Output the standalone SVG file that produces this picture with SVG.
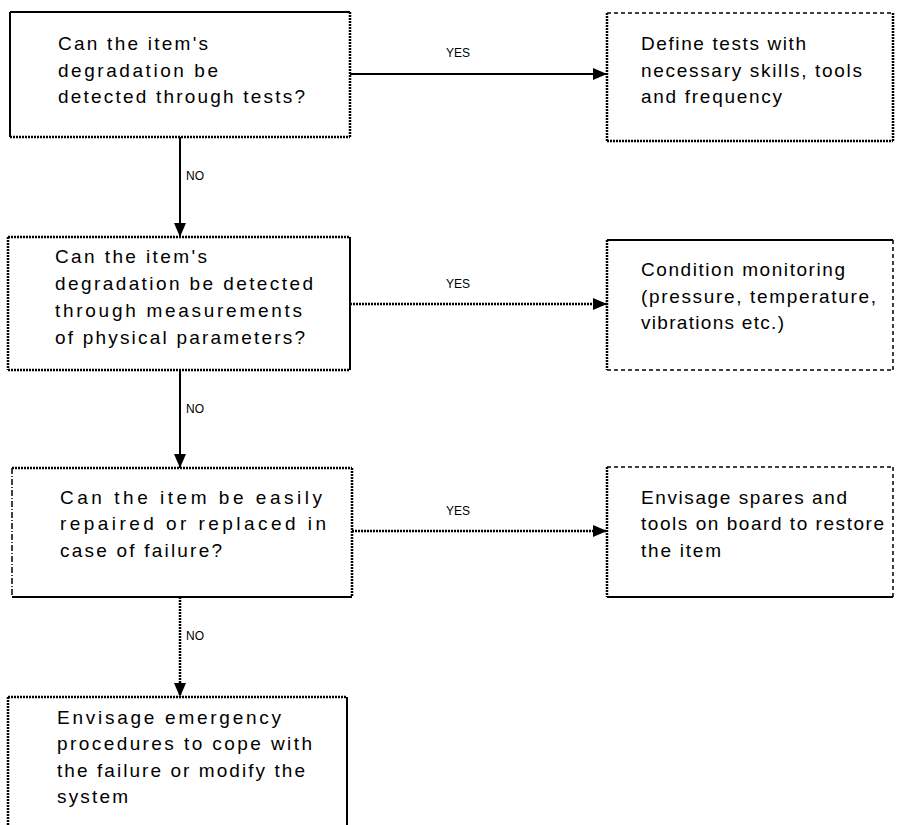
<svg xmlns="http://www.w3.org/2000/svg" width="899" height="825" viewBox="0 0 899 825">
<style>
.bg{fill:#fff}
.s{stroke:#000;stroke-width:2;fill:none}
.d{stroke:#000;stroke-width:2.5;stroke-dasharray:2 1;fill:none}
.k{stroke:#000;stroke-width:1.5;stroke-dasharray:4 3;fill:none}
.dd{stroke:#000;stroke-width:1.5;stroke-dasharray:6 2 1 2;fill:none}
text{font-family:"Liberation Sans",Arial,sans-serif;fill:#000}
.t{font-size:19px}
.l{font-size:12px}
</style>
<defs>
<marker id="ah" markerUnits="userSpaceOnUse" markerWidth="14" markerHeight="14" refX="14" refY="7" orient="auto">
<path d="M0,1 L14,7 L0,13 z" fill="#000"/>
</marker>
</defs>
<rect class="bg" x="0" y="0" width="899" height="825"/>

<g id="connectors">
<line class="s" x1="350" y1="74" x2="607" y2="74" marker-end="url(#ah)"/>
<line class="d" x1="350" y1="304" x2="607" y2="304" marker-end="url(#ah)"/>
<line class="d" x1="352" y1="531" x2="607" y2="531" marker-end="url(#ah)"/>
<line class="s" x1="180" y1="137" x2="180" y2="237" marker-end="url(#ah)"/>
<line class="s" x1="180" y1="370" x2="180" y2="468" marker-end="url(#ah)"/>
<line class="d" x1="180" y1="597" x2="180" y2="697" marker-end="url(#ah)"/>
<text class="l" x="446" y="57">YES</text>
<text class="l" x="446" y="288">YES</text>
<text class="l" x="446" y="515">YES</text>
<text class="l" x="186" y="180">NO</text>
<text class="l" x="186" y="413">NO</text>
<text class="l" x="186" y="640">NO</text>
</g>

<g id="q1">
<rect class="bg" x="10" y="12" width="340" height="125"/>
<line class="s" x1="10" y1="12" x2="350" y2="12"/>
<line class="s" x1="10" y1="12" x2="10" y2="137"/>
<line class="d" x1="350" y1="12" x2="350" y2="137"/>
<line class="d" x1="10" y1="137" x2="350" y2="137"/>
<text class="t" x="58" y="50" textLength="150" lengthAdjust="spacing">Can the item's</text>
<text class="t" x="58" y="77" textLength="160" lengthAdjust="spacing">degradation be</text>
<text class="t" x="58" y="103" textLength="247" lengthAdjust="spacing">detected through tests?</text>
</g>

<g id="a1">
<rect class="bg" x="607" y="13" width="286" height="128"/>
<line class="k" x1="607" y1="13" x2="893" y2="13"/>
<line class="d" x1="607" y1="13" x2="607" y2="141"/>
<line class="d" x1="607" y1="141" x2="893" y2="141"/>
<line class="d" x1="893" y1="13" x2="893" y2="141"/>
<text class="t" x="641" y="50" textLength="165" lengthAdjust="spacing">Define tests with</text>
<text class="t" x="641" y="77" textLength="221" lengthAdjust="spacing">necessary skills, tools</text>
<text class="t" x="641" y="103" textLength="141" lengthAdjust="spacing">and frequency</text>
</g>

<g id="q2">
<rect class="bg" x="8" y="237" width="342" height="133"/>
<line class="d" x1="8" y1="237" x2="350" y2="237"/>
<line class="d" x1="8" y1="237" x2="8" y2="370"/>
<line class="s" x1="350" y1="237" x2="350" y2="370"/>
<line class="d" x1="8" y1="370" x2="350" y2="370"/>
<text class="t" x="55" y="263" textLength="152" lengthAdjust="spacing">Can the item's</text>
<text class="t" x="55" y="290" textLength="258" lengthAdjust="spacing">degradation be detected</text>
<text class="t" x="55" y="317" textLength="247" lengthAdjust="spacing">through measurements</text>
<text class="t" x="55" y="344" textLength="250" lengthAdjust="spacing">of physical parameters?</text>
</g>

<g id="a2">
<rect class="bg" x="607" y="240" width="286" height="130"/>
<line class="s" x1="607" y1="240" x2="893" y2="240"/>
<line class="d" x1="607" y1="240" x2="607" y2="370"/>
<line class="k" x1="607" y1="370" x2="893" y2="370"/>
<line class="k" x1="893" y1="240" x2="893" y2="370"/>
<text class="t" x="641" y="276" textLength="204" lengthAdjust="spacing">Condition monitoring</text>
<text class="t" x="641" y="303" textLength="235" lengthAdjust="spacing">(pressure, temperature,</text>
<text class="t" x="641" y="329" textLength="143" lengthAdjust="spacing">vibrations etc.)</text>
</g>

<g id="q3">
<rect class="bg" x="12" y="468" width="340" height="129"/>
<line class="d" x1="12" y1="468" x2="352" y2="468"/>
<line class="dd" x1="12" y1="468" x2="12" y2="597"/>
<line class="d" x1="352" y1="468" x2="352" y2="597"/>
<line class="s" x1="12" y1="597" x2="352" y2="597"/>
<text class="t" x="60" y="504" textLength="262" lengthAdjust="spacing">Can the item be easily</text>
<text class="t" x="60" y="530" textLength="266" lengthAdjust="spacing">repaired or replaced in</text>
<text class="t" x="60" y="557" textLength="162" lengthAdjust="spacing">case of failure?</text>
</g>

<g id="a3">
<rect class="bg" x="607" y="467" width="286" height="130"/>
<line class="k" x1="607" y1="467" x2="893" y2="467"/>
<line class="d" x1="607" y1="467" x2="607" y2="597"/>
<line class="s" x1="607" y1="597" x2="893" y2="597"/>
<line class="k" x1="893" y1="467" x2="893" y2="597"/>
<text class="t" x="641" y="504" textLength="206" lengthAdjust="spacing">Envisage spares and</text>
<text class="t" x="641" y="530" textLength="243" lengthAdjust="spacing">tools on board to restore</text>
<text class="t" x="641" y="557" textLength="80" lengthAdjust="spacing">the item</text>
</g>

<g id="q4">
<rect class="bg" x="8" y="697" width="339" height="130"/>
<line class="d" x1="8" y1="697" x2="347" y2="697"/>
<line class="d" x1="8" y1="697" x2="8" y2="826"/>
<line class="s" x1="347" y1="697" x2="347" y2="826"/>
<text class="t" x="57" y="724" textLength="224" lengthAdjust="spacing">Envisage emergency</text>
<text class="t" x="57" y="750" textLength="255" lengthAdjust="spacing">procedures to cope with</text>
<text class="t" x="57" y="777" textLength="248" lengthAdjust="spacing">the failure or modify the</text>
<text class="t" x="57" y="803" textLength="71" lengthAdjust="spacing">system</text>
</g>
</svg>
